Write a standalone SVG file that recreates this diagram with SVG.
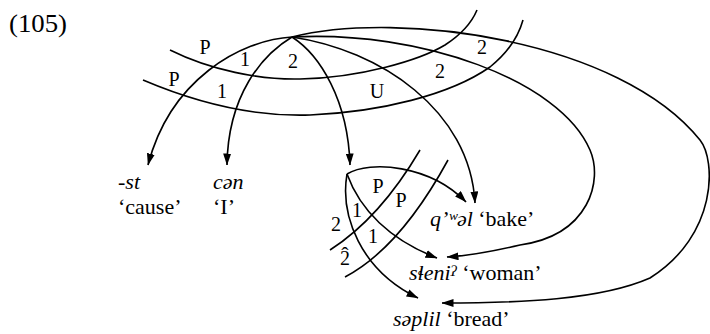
<svg xmlns="http://www.w3.org/2000/svg" width="710" height="334" viewBox="0 0 710 334">
<style>
.arc{fill:none;stroke:#000;stroke-width:1.6}
.arr{fill:none;stroke:#000;stroke-width:1.6;marker-end:url(#ah)}
.lab{font-family:"Liberation Serif","DejaVu Serif",serif;font-size:20px;fill:#000;text-anchor:middle}
.t{font-family:"Liberation Serif","DejaVu Serif",serif;font-size:22px;fill:#000}
.it{font-style:italic}
</style>
<defs>
<marker id="ah" markerWidth="12" markerHeight="8" refX="11.5" refY="4" orient="auto" markerUnits="userSpaceOnUse">
<path d="M0,0 L12,4 L0,8 z" fill="#000"/>
</marker>
</defs>
<rect width="710" height="334" fill="#fff"/>
<text class="t" x="9" y="32" style="font-size:25px" textLength="58" lengthAdjust="spacingAndGlyphs">(105)</text>

<g id="connectors">
<!-- main clause arcs from root -->
<path class="arr" d="M292,37 C240,40 170,80 148,165"/>
<path class="arr" d="M292,37 C262,55 228,95 227,165"/>
<path class="arr" d="M292,37 C320,55 348,100 350,165"/>
<path class="arr" d="M292,37 C380,50 470,110 475,203"/>
<path class="arr" d="M292,37 C420,30 560,80 590,150 C603,180 590,235 520,245 C490,252 465,256 447,257"/>
<path class="arr" d="M292,37 C400,10 620,40 700,140 C716,160 718,235 650,278 C600,300 520,303 442,303"/>
<!-- strata of main clause -->
<path class="arc" d="M170,50 C210,70 260,80 300,79 C360,78 420,60 445,45 C462,34 472,22 477,10"/>
<path class="arc" d="M143,80 C190,100 250,117 310,115 C380,112 450,95 490,67 C505,55 518,38 523,20"/>
<!-- embedded clause arcs -->
<path class="arr" d="M347,174 C370,160 430,165 466,202"/>
<path class="arr" d="M347,174 C360,210 390,240 437,258"/>
<path class="arr" d="M347,174 C340,215 360,270 418,298"/>
<!-- strata of embedded clause -->
<path class="arc" d="M330,250 Q380,218 420,150"/>
<path class="arc" d="M345,277 Q400,248 448,160"/>
</g>

<g id="labels">
<text class="lab" x="205" y="54">P</text>
<text class="lab" x="174" y="86">P</text>
<text class="lab" x="245" y="66">1</text>
<text class="lab" x="293" y="68">2</text>
<text class="lab" x="222" y="98">1</text>
<text class="lab" x="377" y="98">U</text>
<text class="lab" x="440" y="78">2</text>
<text class="lab" x="482" y="54">2</text>
<text class="lab" x="378" y="193">P</text>
<text class="lab" x="401" y="207">P</text>
<text class="lab" x="357" y="217">1</text>
<text class="lab" x="373" y="243">1</text>
<text class="lab" x="336" y="231">2</text>
<text class="lab"><tspan x="345" y="265">2</tspan><tspan x="345" y="262" style="font-size:22px">ˆ</tspan></text>
</g>

<g id="node-root"><circle cx="292" cy="37" r="0.1" fill="#000"/></g>
<g id="node-embedded"><circle cx="347" cy="174" r="0.1" fill="#000"/></g>
<g id="node-st">
<text class="t it" x="118" y="189">-st</text>
<text class="t" x="118" y="214">‘cause’</text>
</g>
<g id="node-cen">
<text class="t it" x="213" y="189">cən</text>
<text class="t" x="213" y="214">‘I’</text>
</g>
<g id="node-bake">
<text class="t" x="430" y="226"><tspan class="it">q’ʷəl</tspan> ‘bake’</text>
</g>
<g id="node-woman">
<text class="t" x="409" y="280"><tspan class="it">sɬeni</tspan><tspan class="it" dy="-4" style="font-size:15px">ʔ</tspan><tspan dy="4"> ‘woman’</tspan></text>
</g>
<g id="node-bread">
<text class="t" x="393" y="326"><tspan class="it">səplil</tspan> ‘bread’</text>
</g>
</svg>
